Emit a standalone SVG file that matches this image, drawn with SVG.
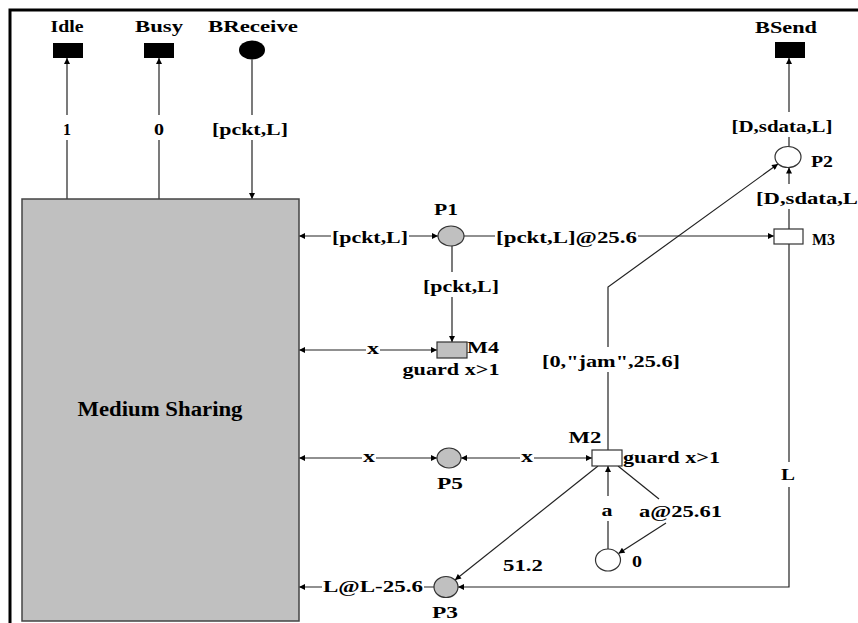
<svg xmlns="http://www.w3.org/2000/svg" width="858" height="623" viewBox="0 0 858 623">
<defs>
<marker id="ah" viewBox="0 0 10 10" refX="10" refY="5" markerWidth="7" markerHeight="6" markerUnits="userSpaceOnUse" orient="auto-start-reverse"><path d="M0,0 L10,5 L0,10 z" fill="#000"/></marker>
</defs>
<style>
text{font-family:"Liberation Serif","Times New Roman",serif;font-weight:bold;font-size:17px;fill:#000}
.c{text-anchor:middle}
.big{font-size:20px}
.ln{fill:none;stroke:#222;stroke-width:1.2}
.a{marker-end:url(#ah)}
.aa{marker-start:url(#ah);marker-end:url(#ah)}
.bg{fill:#fff}
.tok{fill:#000}
.pl{fill:#c0c0c0;stroke:#333;stroke-width:1.2}
.pw{fill:#fff;stroke:#333;stroke-width:1.2}
.tr{fill:#fff;stroke:#333;stroke-width:1.2}
.trg{fill:#c0c0c0;stroke:#333;stroke-width:1.2}
.box{fill:#c0c0c0;stroke:#444;stroke-width:1.5}
</style>
<rect x="0" y="0" width="858" height="623" fill="#fff"/>
<path d="M10,623 V10 H858" fill="none" stroke="#000" stroke-width="3"/>

<g id="connectors">
  <path class="ln a" d="M67,199 V58"/>
  <path class="ln a" d="M159,199 V58"/>
  <path class="ln a" d="M252,59.5 V199"/>
  <path class="ln aa" d="M299,236 H438"/>
  <path class="ln a" d="M464,236 H774"/>
  <path class="ln a" d="M452,246 V342"/>
  <path class="ln aa" d="M299,350 H437"/>
  <path class="ln aa" d="M299,458 H437"/>
  <path class="ln aa" d="M461,458 H592"/>
  <path class="ln a" d="M608,450 V287 L778,164"/>
  <path class="ln a" d="M789,229 V167.5"/>
  <path class="ln a" d="M789,146.5 V58"/>
  <path class="ln a" d="M789,244 V587 H458"/>
  <path class="ln a" d="M434,587 H299"/>
  <path class="ln a" d="M598,466 L455,580"/>
  <path class="ln a" d="M608,549 V466"/>
  <path class="ln" d="M618,466 L659,499"/>
  <path class="ln a" d="M666,523 L618.5,553.5"/>

  <g id="arc-labels">
    <rect class="bg" x="61" y="115" width="12" height="25"/>
    <text class="c" x="67" y="135" textLength="8" lengthAdjust="spacingAndGlyphs">1</text>
    <rect class="bg" x="153" y="115" width="12" height="25"/>
    <text class="c" x="159" y="135" textLength="10" lengthAdjust="spacingAndGlyphs">0</text>
    <rect class="bg" x="211" y="115" width="78" height="25"/>
    <text class="c" x="250" y="135" textLength="76" lengthAdjust="spacingAndGlyphs">[pckt,L]</text>
    <rect class="bg" x="731" y="112" width="103" height="25"/>
    <text class="c" x="782" y="132" textLength="101" lengthAdjust="spacingAndGlyphs">[D,sdata,L]</text>
    <rect class="bg" x="755" y="184" width="103" height="25"/>
    <text x="756" y="204" textLength="102" lengthAdjust="spacingAndGlyphs">[D,sdata,L</text>
    <rect class="bg" x="331" y="223" width="78" height="25"/>
    <text class="c" x="370" y="243" textLength="76" lengthAdjust="spacingAndGlyphs">[pckt,L]</text>
    <rect class="bg" x="495" y="223" width="143" height="25"/>
    <text x="496" y="243" textLength="141" lengthAdjust="spacingAndGlyphs">[pckt,L]@25.6</text>
    <rect class="bg" x="422" y="272" width="78" height="25"/>
    <text class="c" x="461" y="292" textLength="76" lengthAdjust="spacingAndGlyphs">[pckt,L]</text>
    <rect class="bg" x="366" y="342" width="14" height="16"/>
    <text class="c" x="373" y="354" textLength="12" lengthAdjust="spacingAndGlyphs">x</text>
    <rect class="bg" x="541" y="347" width="140" height="25"/>
    <text class="c" x="611" y="367" textLength="138" lengthAdjust="spacingAndGlyphs">[0,"jam",25.6]</text>
    <rect class="bg" x="362" y="450" width="14" height="16"/>
    <text class="c" x="369" y="462" textLength="12" lengthAdjust="spacingAndGlyphs">x</text>
    <rect class="bg" x="520" y="450" width="14" height="16"/>
    <text class="c" x="527" y="462" textLength="12" lengthAdjust="spacingAndGlyphs">x</text>
    <rect class="bg" x="780" y="462" width="16" height="25"/>
    <text class="c" x="788" y="480" textLength="14" lengthAdjust="spacingAndGlyphs">L</text>
    <rect class="bg" x="600" y="496" width="14" height="25"/>
    <text class="c" x="607" y="516" textLength="11" lengthAdjust="spacingAndGlyphs">a</text>
    <text x="639" y="517" textLength="83" lengthAdjust="spacingAndGlyphs">a@25.61</text>
    <text class="c" x="523" y="571" textLength="40" lengthAdjust="spacingAndGlyphs">51.2</text>
    <rect class="bg" x="322" y="578" width="102" height="18"/>
    <text x="323" y="592" textLength="100" lengthAdjust="spacingAndGlyphs">L@L-25.6</text>
  </g>
</g>

<g id="medium-sharing">
  <rect class="box" x="22" y="199" width="277" height="422"/>
  <text class="c big" x="160" y="416" textLength="165" lengthAdjust="spacingAndGlyphs">Medium Sharing</text>
</g>
<g id="idle">
  <rect class="tok" x="53" y="43" width="30" height="15"/>
  <text class="c" x="67" y="32" textLength="33" lengthAdjust="spacingAndGlyphs">Idle</text>
</g>
<g id="busy">
  <rect class="tok" x="144" y="43" width="30" height="15"/>
  <text class="c" x="159" y="32" textLength="48" lengthAdjust="spacingAndGlyphs">Busy</text>
</g>
<g id="breceive">
  <ellipse class="tok" cx="252" cy="50" rx="13" ry="9.5"/>
  <text class="c" x="253" y="32" textLength="90" lengthAdjust="spacingAndGlyphs">BReceive</text>
</g>
<g id="bsend">
  <rect class="tok" x="775" y="42" width="30" height="16"/>
  <text class="c" x="786" y="33" textLength="62" lengthAdjust="spacingAndGlyphs">BSend</text>
</g>
<g id="p1">
  <ellipse class="pl" cx="451" cy="236" rx="13" ry="10"/>
  <text class="c" x="446" y="215" textLength="24" lengthAdjust="spacingAndGlyphs">P1</text>
</g>
<g id="p2">
  <ellipse class="pw" cx="788" cy="157" rx="13" ry="10.5"/>
  <text x="811" y="167" textLength="22" lengthAdjust="spacingAndGlyphs">P2</text>
</g>
<g id="m3">
  <rect class="tr" x="774" y="229" width="29" height="15"/>
  <text x="812" y="245" textLength="23" lengthAdjust="spacingAndGlyphs">M3</text>
</g>
<g id="m4">
  <rect class="trg" x="437" y="342" width="30" height="16"/>
  <text x="467" y="353" textLength="32" lengthAdjust="spacingAndGlyphs">M4</text>
  <text class="c" x="451" y="375" textLength="97" lengthAdjust="spacingAndGlyphs">guard x&gt;1</text>
</g>
<g id="p5">
  <ellipse class="pl" cx="449" cy="458" rx="12" ry="10"/>
  <text class="c" x="450" y="489" textLength="26" lengthAdjust="spacingAndGlyphs">P5</text>
</g>
<g id="m2">
  <rect class="tr" x="592" y="450" width="30" height="16"/>
  <text class="c" x="585" y="443" textLength="33" lengthAdjust="spacingAndGlyphs">M2</text>
  <text x="623" y="463" textLength="97" lengthAdjust="spacingAndGlyphs">guard x&gt;1</text>
</g>
<g id="p0">
  <ellipse class="pw" cx="608" cy="560" rx="12.5" ry="11"/>
  <text x="632" y="567" textLength="10" lengthAdjust="spacingAndGlyphs">0</text>
</g>
<g id="p3">
  <ellipse class="pl" cx="446" cy="587" rx="12" ry="10.5"/>
  <text class="c" x="445" y="618" textLength="26" lengthAdjust="spacingAndGlyphs">P3</text>
</g>
</svg>
